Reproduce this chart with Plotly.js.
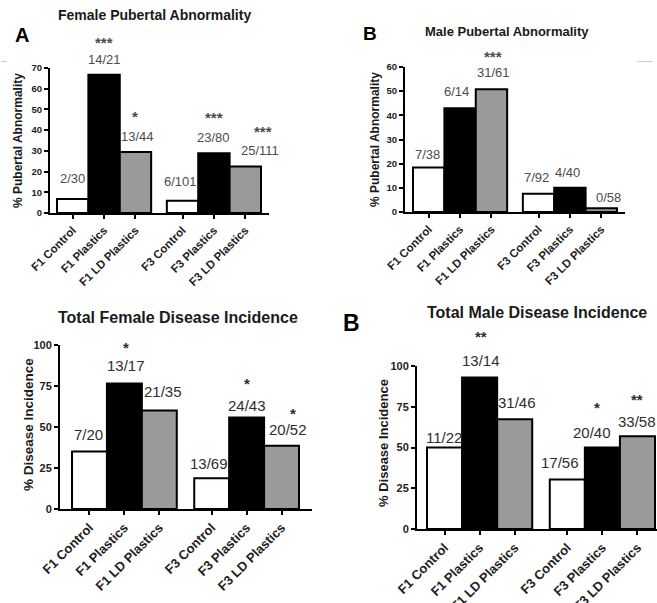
<!DOCTYPE html>
<html><head><meta charset="utf-8">
<script src="https://cdn.plot.ly/plotly-3.0.1.min.js"></script>
<style>html,body{margin:0;padding:0;background:#fff;}#chart{width:657px;height:603px;}</style>
</head><body><div id="chart"></div>
<script>
// ---------- DATA ----------
const generations = ['F1', 'F3'];
const treatments = ['Control', 'Plastics', 'LD Plastics'];
const categories = ['F1 Control', 'F1 Plastics', 'F1 LD Plastics', 'F3 Control', 'F3 Plastics', 'F3 LD Plastics'];

const femalePubertalPct = [6.7, 66.7, 29.5, 5.9, 28.8, 22.5];
const femalePubertalN = ['2/30', '14/21', '13/44', '6/101', '23/80', '25/111'];
const femalePubertalSig = ['', '***', '*', '', '***', '***'];

const malePubertalPct = [18.4, 42.9, 50.8, 7.6, 10.0, 1.5];
const malePubertalN = ['7/38', '6/14', '31/61', '7/92', '4/40', '0/58'];
const malePubertalSig = ['', '', '***', '', '', ''];

const femaleDiseasePct = [35.0, 76.5, 60.0, 18.8, 55.8, 38.5];
const femaleDiseaseN = ['7/20', '13/17', '21/35', '13/69', '24/43', '20/52'];
const femaleDiseaseSig = ['', '*', '', '', '*', '*'];

const maleDiseasePct = [50.0, 92.9, 67.4, 30.4, 50.0, 56.9];
const maleDiseaseN = ['11/22', '13/14', '31/46', '17/56', '20/40', '33/58'];
const maleDiseaseSig = ['', '**', '', '', '*', '**'];

// ---------- STYLE / LAYOUT ----------
const W = 657, H = 603;
const FONT = 'Liberation Sans, Arial, Helvetica, sans-serif';
const treatmentColors = ['#ffffff', '#000000', '#9a9a9a'];
const fx = p => p / W;
const fy = p => 1 - p / H;

// bar slot positions derived from generation / treatment structure
const groupStep = treatments.length + 0.5;
const positions = categories.map((c, i) => Math.floor(i / treatments.length) * groupStep + (i % treatments.length));
const barColors = categories.map((c, i) => treatmentColors[i % treatments.length]);

const panels = [
  { values: femalePubertalPct, fracs: femalePubertalN, sigs: femalePubertalSig,
    title: 'Female Pubertal Abnormality', titleX: 154, titleY: 15, titleSize: 14,
    letter: 'A', letterX: 22, letterY: 35, letterSize: 20,
    ytitle: '% Pubertal Abnormality', ytX: 18, ytY: 141, ytSize: 12,
    box: { l: 50, r: 269, b: 213, t: 68 }, yMax: 70, dtick: 10, xr: [-0.723, 6.255],
    tickSize: 9.5, xtickSize: 11.5, fracSize: 13, sigSize: 15, color: '#4d4d4d',
    fracDy: [21, 15, 15, 19, 16, 16], fracDx: [0, 0, 2, -2, 0, 15],
    sigDy: [0, 36, 39, 0, 40, 39], sigDx: [0, 0, 0, 0, 0, 18] },
  { values: malePubertalPct, fracs: malePubertalN, sigs: malePubertalSig,
    title: 'Male Pubertal Abnormality', titleX: 507, titleY: 32, titleSize: 13,
    letter: 'B', letterX: 370, letterY: 34, letterSize: 19,
    ytitle: '% Pubertal Abnormality', ytX: 375, ytY: 140, ytSize: 12,
    box: { l: 405, r: 625, b: 212, t: 67 }, yMax: 60, dtick: 10, xr: [-0.755, 6.255],
    tickSize: 9.5, xtickSize: 11.5, fracSize: 13, sigSize: 15, color: '#4d4d4d',
    fracDy: [13.5, 17, 17, 16, 15, 11], fracDx: [-1, -4, 2, -2, -2, 7],
    sigDy: [0, 0, 37, 0, 0, 0], sigDx: [0, 0, 2, 0, 0, 0] },
  { values: femaleDiseasePct, fracs: femaleDiseaseN, sigs: femaleDiseaseSig,
    title: 'Total Female Disease Incidence', titleX: 178, titleY: 317, titleSize: 16,
    letter: '', letterX: 0, letterY: 0, letterSize: 20,
    ytitle: '% Disease Incidence', ytX: 28, ytY: 425, ytSize: 13.5,
    box: { l: 60, r: 312, b: 509, t: 345 }, yMax: 100, dtick: 25, xr: [-0.844, 6.372],
    tickSize: 11, xtickSize: 13, fracSize: 15, sigSize: 15, color: '#2e2e2e',
    fracDy: [17, 18.5, 19, 15, 12, 16], fracDx: [-1, 2, 4, -3, 0, 6],
    sigDy: [0, 40, 0, 0, 38, 36], sigDx: [0, 2, 0, 0, 0, 11] },
  { values: maleDiseasePct, fracs: maleDiseaseN, sigs: maleDiseaseSig,
    title: 'Total Male Disease Incidence', titleX: 537, titleY: 312, titleSize: 16,
    letter: 'B', letterX: 351, letterY: 323, letterSize: 23,
    ytitle: '% Disease Incidence', ytX: 383, ytY: 443, ytSize: 13,
    box: { l: 417, r: 657, b: 529, t: 366 }, yMax: 100, dtick: 25, xr: [-0.785, 6.057],
    tickSize: 11, xtickSize: 13, fracSize: 15, sigSize: 15, color: '#2e2e2e',
    fracDy: [10, 17.5, 17, 17, 15.5, 15], fracDx: [-1, 1, 2, -7, -10, 0],
    sigDy: [0, 44.6, 0, 0, 44.5, 41], sigDx: [0, 1, 0, 0, -5, 0] }
];

const traces = [];
const layout = {
  width: W, height: H, autosize: false,
  margin: { l: 0, r: 0, t: 0, b: 0 },
  paper_bgcolor: '#ffffff', plot_bgcolor: 'rgba(0,0,0,0)',
  showlegend: false, bargap: 0,
  font: { family: FONT, color: '#000' },
  annotations: []
};

panels.forEach((p, k) => {
  const n = k === 0 ? '' : String(k + 1);
  const xa = 'xaxis' + n, ya = 'yaxis' + n;
  const xr = 'x' + n, yr = 'y' + n;
  traces.push({
    type: 'bar', x: positions, y: p.values, width: 1,
    xaxis: xr, yaxis: yr,
    marker: { color: barColors, line: { color: '#000', width: 2 } },
    hoverinfo: 'skip'
  });
  layout[xa] = {
    domain: [fx(p.box.l), fx(p.box.r)], range: p.xr, anchor: yr,
    showgrid: false, zeroline: false, showline: true, linecolor: '#000', linewidth: 2,
    tickmode: 'array', tickvals: positions, ticktext: categories,
    ticks: 'outside', ticklen: 4, tickwidth: 2, tickcolor: '#000', tickangle: -45,
    tickfont: { family: FONT, size: p.xtickSize, color: '#222', weight: 'bold' },
    fixedrange: true
  };
  layout[ya] = {
    domain: [fy(p.box.b), fy(p.box.t)], range: [0, p.yMax], anchor: xr,
    showgrid: false, zeroline: false, showline: true, linecolor: '#000', linewidth: 2,
    tickmode: 'linear', tick0: 0, dtick: p.dtick,
    ticks: 'outside', ticklen: 4, tickwidth: 2, tickcolor: '#000',
    tickfont: { family: FONT, size: p.tickSize, color: '#222', weight: 'bold' },
    fixedrange: true
  };
  // fraction and significance labels, anchored at each bar top
  p.values.forEach((v, i) => {
    layout.annotations.push({
      xref: xr, yref: yr, x: positions[i], y: v, text: p.fracs[i],
      showarrow: false, xanchor: 'center', yanchor: 'middle',
      xshift: p.fracDx[i], yshift: p.fracDy[i],
      font: { family: FONT, size: p.fracSize, color: p.color }
    });
    if (p.sigs[i]) {
      layout.annotations.push({
        xref: xr, yref: yr, x: positions[i], y: v, text: p.sigs[i],
        showarrow: false, xanchor: 'center', yanchor: 'middle',
        xshift: p.sigDx[i], yshift: p.sigDy[i] - 4,
        font: { family: FONT, size: p.sigSize, color: p.color, weight: 'bold' }
      });
    }
  });
  layout.annotations.push({
    xref: 'paper', yref: 'paper', x: fx(p.titleX), y: fy(p.titleY), text: p.title,
    showarrow: false, xanchor: 'center', yanchor: 'middle',
    font: { family: FONT, size: p.titleSize, color: '#1a1a1a', weight: 'bold' }
  });
  layout.annotations.push({
    xref: 'paper', yref: 'paper', x: fx(p.ytX), y: fy(p.ytY), text: p.ytitle,
    showarrow: false, xanchor: 'center', yanchor: 'middle', textangle: -90,
    font: { family: FONT, size: p.ytSize, color: '#1a1a1a', weight: 'bold' }
  });
  if (p.letter) {
    layout.annotations.push({
      xref: 'paper', yref: 'paper', x: fx(p.letterX), y: fy(p.letterY), text: p.letter,
      showarrow: false, xanchor: 'center', yanchor: 'middle',
      font: { family: FONT, size: p.letterSize, color: '#000', weight: 'bold' }
    });
  }
});

// small dotted marks at the page edges
[[4, 60, '...'], [645, 60, '........']].forEach(d => {
  layout.annotations.push({
    xref: 'paper', yref: 'paper', x: fx(d[0]), y: fy(d[1]), text: d[2],
    showarrow: false, xanchor: 'center', yanchor: 'middle',
    font: { family: FONT, size: 7, color: '#444' }
  });
});

Plotly.newPlot('chart', traces, layout, { staticPlot: true, displayModeBar: false });
</script>
</body></html>
